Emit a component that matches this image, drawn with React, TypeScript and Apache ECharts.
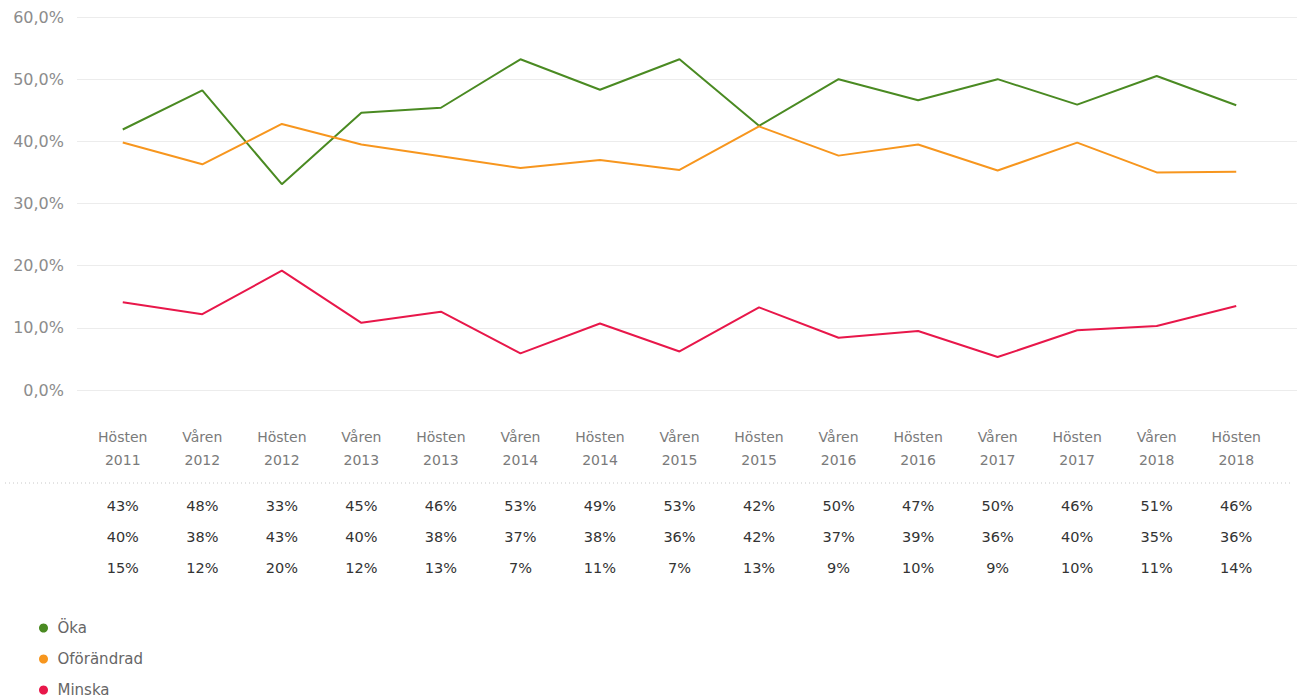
import React, { useEffect, useRef } from "react";
import * as echarts from "echarts";

const categories = [
  "Hösten\n2011", "Våren\n2012", "Hösten\n2012", "Våren\n2013", "Hösten\n2013",
  "Våren\n2014", "Hösten\n2014", "Våren\n2015", "Hösten\n2015", "Våren\n2016",
  "Hösten\n2016", "Våren\n2017", "Hösten\n2017", "Våren\n2018", "Hösten\n2018",
];

const okaLine = [41.9, 48.2, 33.1, 44.6, 45.4, 53.2, 48.3, 53.2, 42.5, 50.0, 46.6, 50.0, 45.9, 50.5, 45.8];
const ofoLine = [39.8, 36.3, 42.8, 39.5, 37.6, 35.7, 37.0, 35.4, 42.4, 37.7, 39.5, 35.3, 39.8, 35.0, 35.1];
const minLine = [14.1, 12.2, 19.2, 10.8, 12.6, 5.9, 10.7, 6.2, 13.3, 8.4, 9.5, 5.3, 9.6, 10.3, 13.5];

const okaTable = [43, 48, 33, 45, 46, 53, 49, 53, 42, 50, 47, 50, 46, 51, 46];
const ofoTable = [40, 38, 43, 40, 38, 37, 38, 36, 42, 37, 39, 36, 40, 35, 36];
const minTable = [15, 12, 20, 12, 13, 7, 11, 7, 13, 9, 10, 9, 10, 11, 14];

const seriesNames = ["Öka", "Oförändrad", "Minska"];
const colors = ["#4a8a22", "#f7961e", "#e8174a"];

const FONT = "DejaVu Sans";

function tableAxis(values: number[], offset: number) {
  return {
    type: "category" as const,
    gridIndex: 1,
    position: "bottom" as const,
    offset,
    data: values.map((v) => v + "%"),
    axisLine: { show: false },
    axisTick: { show: false },
    splitLine: { show: false },
    axisLabel: {
      interval: 0,
      margin: 8,
      fontFamily: FONT,
      fontSize: 14.5,
      color: "#333",
    },
  };
}

export default function App() {
  const ref = useRef<HTMLDivElement>(null);
  useEffect(() => {
    if (!ref.current) return;
    const chart = echarts.init(ref.current, null, { renderer: "svg" });
    chart.setOption({
      animation: false,
      backgroundColor: "#fff",
      textStyle: { fontFamily: FONT },
      grid: [
        { left: 77, right: 0, top: 17, bottom: 310 },
        { left: 83, right: 21, top: 17, bottom: 310 },
      ],
      xAxis: [
        { type: "category", gridIndex: 0, data: categories, show: false },
        {
          type: "category",
          gridIndex: 1,
          data: categories,
          axisLine: { show: false },
          axisTick: { show: false },
          splitLine: { show: false },
          axisLabel: {
            interval: 0,
            margin: 35,
            fontFamily: FONT,
            fontSize: 14,
            lineHeight: 23,
            color: "#7a7a7a",
          },
        },
        tableAxis(okaTable, 100),
        tableAxis(ofoTable, 131),
        tableAxis(minTable, 162),
      ],
      yAxis: [
        {
          type: "value",
          gridIndex: 0,
          min: 0,
          max: 60,
          interval: 10,
          axisLine: { show: false },
          axisTick: { show: false },
          splitLine: { lineStyle: { color: "#ececec", width: 1 } },
          axisLabel: {
            margin: 13,
            fontFamily: FONT,
            fontSize: 16,
            color: "#8c8c8c",
            formatter: (v: number) => v.toFixed(1).replace(".", ",") + "%",
          },
        },
        { type: "value", gridIndex: 1, min: 0, max: 60, show: false },
      ],
      legend: {
        orient: "vertical",
        left: 39,
        top: 619,
        padding: 0,
        height: 90,
        icon: "circle",
        itemWidth: 18,
        itemHeight: 9,
        itemGap: 13,
        data: seriesNames,
        textStyle: { fontFamily: FONT, fontSize: 15, color: "#666", lineHeight: 18 },
      },
      graphic: [
        {
          type: "line",
          shape: { x1: 5, y1: 483, x2: 1292, y2: 483 },
          style: { stroke: "#c8c8c8", lineWidth: 1, lineDash: [1, 3] },
        },
      ],
      series: [okaLine, ofoLine, minLine].map((d, i) => ({
        name: seriesNames[i],
        type: "line",
        xAxisIndex: 1,
        yAxisIndex: 1,
        data: d,
        showSymbol: false,
        symbol: "circle",
        color: colors[i],
        lineStyle: { width: 2, color: colors[i] },
      })),
    });
    return () => chart.dispose();
  }, []);
  return (
    <div
      ref={ref}
      style={{ position: "absolute", left: 0, top: 0, width: 1297, height: 700 }}
    />
  );
}
